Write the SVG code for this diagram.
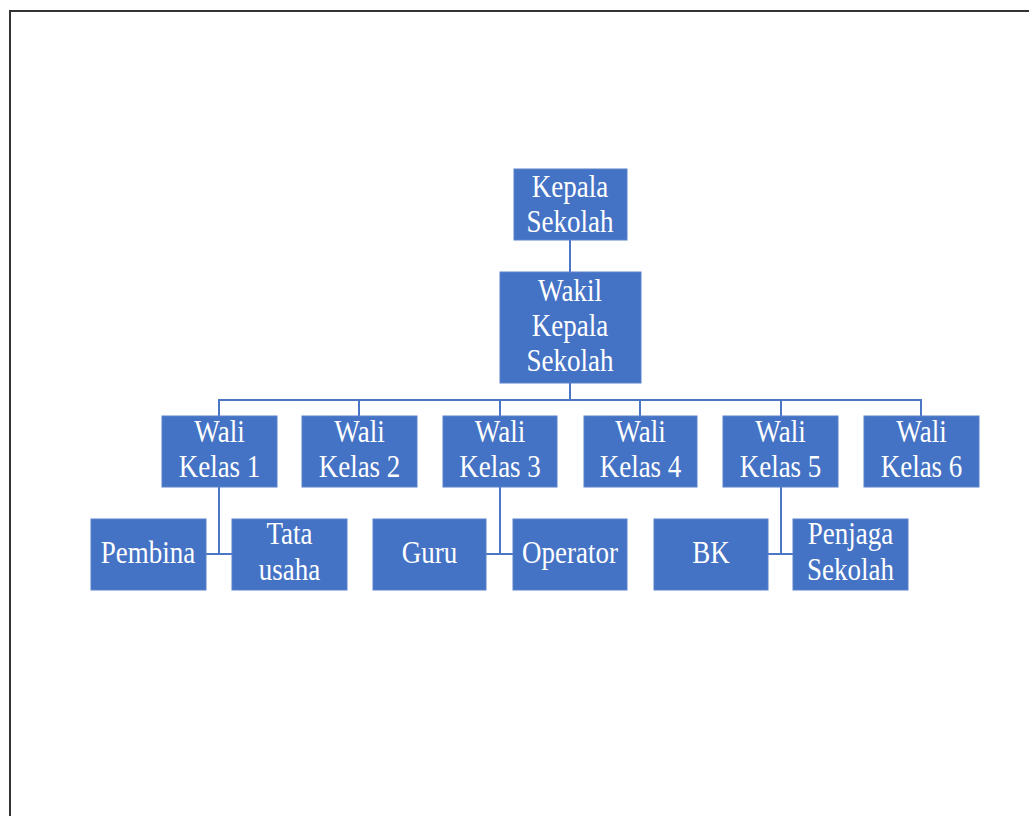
<svg xmlns="http://www.w3.org/2000/svg" width="1029" height="816" viewBox="0 0 1029 816">
<style>
.box{fill:#4472C4;stroke:#5b82cc;stroke-width:1}
.t{font-family:"Liberation Serif","Times New Roman",serif;font-size:27px;fill:#ffffff;text-anchor:middle}
.c{stroke:#4a76c6;stroke-width:2;fill:none}
</style>
<rect width="1029" height="816" fill="#ffffff"/>
<path d="M10 816 V11 H1029" fill="none" stroke="#333333" stroke-width="2"/>
<g id="connectors">
<path class="c" d="M570 240 V272"/>
<path class="c" d="M570 383 V400"/>
<path class="c" d="M219 416 V400 H921 V416"/>
<path class="c" d="M359 400 V416 M500 400 V416 M640 400 V416 M781 400 V416"/>
<path class="c" d="M219 487 V554 M206 554 H232"/>
<path class="c" d="M500 487 V554 M486 554 H513"/>
<path class="c" d="M781 487 V554 M768 554 H793"/>
</g>
<g id="kepala"><rect class="box" x="514" y="169" width="113" height="71"/>
<text class="t" transform="translate(570 197) scale(1 1.15)"><tspan x="0" y="0">Kepala</tspan><tspan x="0" dy="30.4">Sekolah</tspan></text></g>
<g id="wakil"><rect class="box" x="500" y="272" width="141" height="111"/>
<text class="t" transform="translate(570 301) scale(1 1.15)"><tspan x="0" y="0">Wakil</tspan><tspan x="0" dy="30.4">Kepala</tspan><tspan x="0" dy="30.4">Sekolah</tspan></text></g>
<g id="wali1"><rect class="box" x="162" y="416" width="115" height="71"/>
<text class="t" transform="translate(219.5 442) scale(1 1.15)"><tspan x="0" y="0">Wali</tspan><tspan x="0" dy="30.4">Kelas 1</tspan></text></g>
<g id="wali2"><rect class="box" x="302" y="416" width="115" height="71"/>
<text class="t" transform="translate(359.5 442) scale(1 1.15)"><tspan x="0" y="0">Wali</tspan><tspan x="0" dy="30.4">Kelas 2</tspan></text></g>
<g id="wali3"><rect class="box" x="443" y="416" width="114" height="71"/>
<text class="t" transform="translate(500 442) scale(1 1.15)"><tspan x="0" y="0">Wali</tspan><tspan x="0" dy="30.4">Kelas 3</tspan></text></g>
<g id="wali4"><rect class="box" x="584" y="416" width="113" height="71"/>
<text class="t" transform="translate(640.5 442) scale(1 1.15)"><tspan x="0" y="0">Wali</tspan><tspan x="0" dy="30.4">Kelas 4</tspan></text></g>
<g id="wali5"><rect class="box" x="723" y="416" width="115" height="71"/>
<text class="t" transform="translate(780.5 442) scale(1 1.15)"><tspan x="0" y="0">Wali</tspan><tspan x="0" dy="30.4">Kelas 5</tspan></text></g>
<g id="wali6"><rect class="box" x="864" y="416" width="115" height="71"/>
<text class="t" transform="translate(921.5 442) scale(1 1.15)"><tspan x="0" y="0">Wali</tspan><tspan x="0" dy="30.4">Kelas 6</tspan></text></g>
<g id="pembina"><rect class="box" x="91" y="519" width="115" height="71"/>
<text class="t" transform="translate(148 563) scale(1 1.15)">Pembina</text></g>
<g id="tatausaha"><rect class="box" x="232" y="519" width="115" height="71"/>
<text class="t" transform="translate(289.5 544) scale(1 1.15)"><tspan x="0" y="0">Tata</tspan><tspan x="0" dy="31">usaha</tspan></text></g>
<g id="guru"><rect class="box" x="373" y="519" width="113" height="71"/>
<text class="t" transform="translate(429.5 563) scale(1 1.15)">Guru</text></g>
<g id="operator"><rect class="box" x="513" y="519" width="114" height="71"/>
<text class="t" transform="translate(570 563) scale(1 1.15)">Operator</text></g>
<g id="bk"><rect class="box" x="654" y="519" width="114" height="71"/>
<text class="t" transform="translate(711 563) scale(1 1.15)">BK</text></g>
<g id="penjaga"><rect class="box" x="793" y="519" width="115" height="71"/>
<text class="t" transform="translate(850.5 544) scale(1 1.15)"><tspan x="0" y="0">Penjaga</tspan><tspan x="0" dy="31">Sekolah</tspan></text></g>
</svg>
